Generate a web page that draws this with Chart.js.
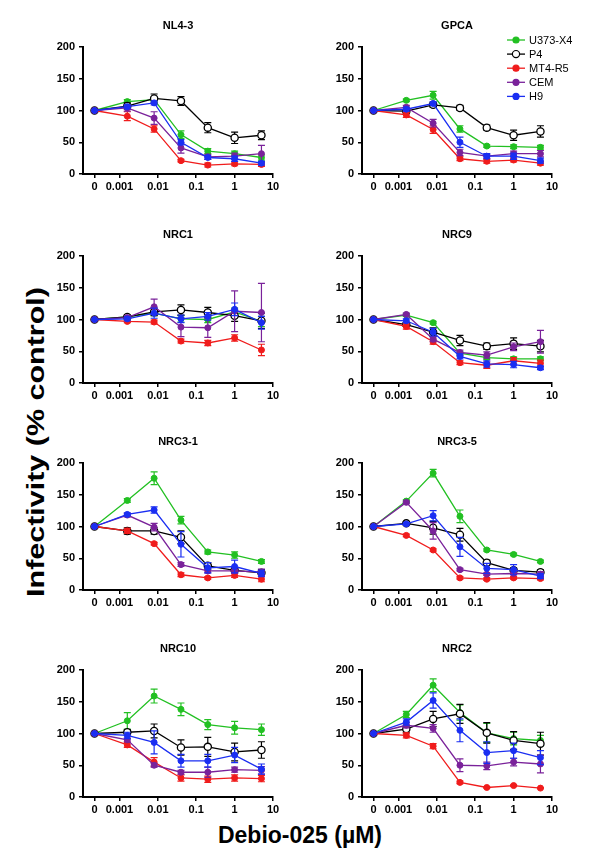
<!DOCTYPE html>
<html>
<head>
<meta charset="utf-8">
<script src="https://cdn.jsdelivr.net/npm/chart.js@4/dist/chart.umd.min.js"></script>
<style>
  html, body { margin: 0; padding: 0; background: #fff; }
  #page { position: relative; width: 600px; height: 862px; overflow: hidden; font-family: "Liberation Sans", Arial, sans-serif; }
  .panel { position: absolute; }
  #ytitle {
    position: absolute; left: 36px; top: 442px; white-space: nowrap;
    font-weight: bold; font-size: 24px; line-height: 1;
    transform: translate(-50%, -50%) rotate(-90deg) scaleX(1.27);
  }
  #xtitle {
    position: absolute; left: 0; width: 600px; top: 821px; text-align: center;
    font-weight: bold; font-size: 23px; line-height: 28px;
  }
</style>
</head>
<body>
<div id="page">
  <div id="ytitle">Infectivity (% control)</div>
  <div id="xtitle">Debio-025 (µM)</div>
</div>
<script>
// Debio-025 doses (µM); 0 is drawn at the axis break
const doses = [0, 0.0016, 0.008, 0.04, 0.2, 1, 5];
const xTickValues = [0, 0.001, 0.01, 0.1, 1, 10];
const xTickLabels = ['0', '0.001', '0.01', '0.1', '1', '10'];
const yTickValues = [0, 50, 100, 150, 200];

const cellLines = ['U373-X4', 'P4', 'MT4-R5', 'CEM', 'H9'];
const panelTitles = ['NL4-3', 'GPCA', 'NRC1', 'NRC9', 'NRC3-1', 'NRC3-5', 'NRC10', 'NRC2'];

// values per panel, rows in cellLines order
const NL4_3 = [
    [100, 114, 117, 62, 36, 32, 26],
    [100, 107, 119, 115, 73, 57, 61],
    [100, 91, 71, 21, 14, 16, 15],
    [100, 104, 88, 41, 27, 28, 32],
    [100, 106, 112, 50, 26, 24, 17]
];
const NL4_3_err = [
    [0, 3, 3, 6, 4, 4, 4],
    [0, 5, 7, 7, 8, 9, 7],
    [0, 7, 5, 2, 3, 3, 3],
    [0, 5, 10, 8, 4, 5, 13],
    [0, 3, 3, 4, 3, 4, 3]
];
const GPCA = [
    [100, 116, 124, 71, 44, 43, 42],
    [100, 99, 109, 104, 73, 61, 67],
    [100, 93, 70, 24, 20, 22, 17],
    [100, 105, 80, 34, 28, 32, 32],
    [100, 102, 111, 50, 28, 28, 21]
];
const GPCA_err = [
    [0, 2, 6, 5, 2, 3, 3],
    [0, 3, 4, 4, 4, 8, 9],
    [0, 4, 6, 3, 3, 3, 3],
    [0, 3, 6, 5, 3, 4, 5],
    [0, 3, 3, 8, 4, 5, 4]
];
const NRC1 = [
    [100, 104, 110, 101, 100, 112, 97],
    [100, 104, 112, 115, 111, 106, 98],
    [100, 97, 96, 66, 63, 71, 52],
    [100, 103, 120, 88, 87, 113, 111],
    [100, 101, 110, 101, 105, 116, 95]
];
const NRC1_err = [
    [0, 2, 4, 5, 5, 6, 8],
    [0, 3, 6, 8, 8, 9, 12],
    [0, 2, 3, 3, 4, 5, 9],
    [0, 3, 12, 15, 15, 32, 46],
    [0, 3, 8, 6, 6, 10, 10]
];
const NRC9 = [
    [100, 107, 95, 47, 40, 38, 38],
    [100, 92, 80, 67, 58, 62, 58],
    [100, 89, 65, 32, 28, 35, 31],
    [100, 108, 69, 48, 44, 57, 65],
    [100, 98, 80, 42, 30, 29, 24]
];
const NRC9_err = [
    [0, 2, 2, 3, 3, 3, 3],
    [0, 3, 7, 8, 5, 9, 9],
    [0, 4, 4, 3, 5, 5, 5],
    [0, 2, 4, 4, 5, 6, 18],
    [0, 3, 6, 4, 5, 5, 3]
];
const NRC3_1 = [
    [100, 141, 176, 110, 60, 55, 45],
    [100, 93, 93, 83, 38, 31, 27],
    [100, 93, 73, 24, 19, 23, 17],
    [100, 118, 99, 40, 30, 30, 28],
    [100, 119, 126, 72, 35, 37, 26]
];
const NRC3_1_err = [
    [0, 3, 10, 6, 3, 5, 3],
    [0, 5, 5, 10, 5, 4, 5],
    [0, 4, 2, 3, 2, 3, 4],
    [0, 3, 6, 3, 3, 3, 5],
    [0, 2, 5, 20, 8, 10, 5]
];
const NRC3_5 = [
    [100, 140, 184, 116, 63, 56, 45],
    [100, 105, 98, 87, 43, 31, 28],
    [100, 86, 63, 19, 17, 19, 18],
    [100, 138, 93, 32, 25, 26, 25],
    [100, 104, 117, 68, 34, 32, 22]
];
const NRC3_5_err = [
    [0, 2, 6, 10, 2, 2, 2],
    [0, 2, 10, 10, 4, 4, 4],
    [0, 2, 2, 2, 2, 2, 2],
    [0, 2, 13, 2, 2, 2, 4],
    [0, 2, 8, 15, 8, 8, 4]
];
const NRC10 = [
    [100, 120, 159, 138, 114, 109, 106],
    [100, 102, 104, 78, 79, 71, 74],
    [100, 82, 55, 30, 28, 30, 29],
    [100, 90, 50, 39, 39, 43, 42],
    [100, 97, 86, 57, 57, 66, 44]
];
const NRC10_err = [
    [0, 13, 11, 10, 8, 10, 9],
    [0, 4, 11, 12, 15, 14, 13],
    [0, 4, 7, 5, 5, 5, 5],
    [0, 3, 3, 3, 8, 4, 6],
    [0, 5, 18, 10, 10, 12, 8]
];
const NRC2 = [
    [100, 130, 176, 133, 101, 92, 89],
    [100, 107, 123, 131, 101, 89, 84],
    [100, 97, 80, 23, 15, 18, 14],
    [100, 113, 108, 50, 49, 55, 52],
    [100, 118, 152, 105, 70, 73, 62]
];
const NRC2_err = [
    [0, 5, 10, 12, 15, 10, 8],
    [0, 6, 12, 15, 16, 14, 18],
    [0, 4, 4, 2, 1, 1, 1],
    [0, 4, 6, 10, 6, 6, 14],
    [0, 5, 12, 18, 17, 12, 11]
];

const panelValues = [NL4_3, GPCA, NRC1, NRC9, NRC3_1, NRC3_5, NRC10, NRC2];
const panelErrors = [NL4_3_err, GPCA_err, NRC1_err, NRC9_err, NRC3_1_err, NRC3_5_err, NRC10_err, NRC2_err];

// look
const FONT = '"Liberation Sans", Arial, Helvetica, sans-serif';
const colors = ['#22c022', '#000000', '#f01c1c', '#7a229a', '#1a2ef2'];
const ZERO_POS = Math.pow(10, -3.65);   // where dose 0 sits on the log axis
const X_MIN = Math.pow(10, -3.95);
const colLeft = [83, 362];
const rowTop = [47, 256, 463, 670];
const PLOT_W = 190, PLOT_H = 127;
const PAD = { left: 5, top: 30, right: 25, bottom: 3 };
const Y_AXIS_W = 40, X_AXIS_H = 22;

/**
 * Barras de error dibujadas bajo cada serie
 */
const errorBars = {
    id: 'errorBars',
    beforeDatasetDraw(chart, args) {
        const ds = chart.data.datasets[args.index];
        if (!ds.errors) return;
        const yScale = chart.scales.y;
        const ctx = chart.ctx;
        ctx.save();
        ctx.strokeStyle = ds.borderColor;
        ctx.lineWidth = 1.2;
        args.meta.data.forEach((pt, i) => {
            const e = ds.errors[i];
            if (!e) return;
            const v = ds.data[i].y;
            const top = yScale.getPixelForValue(v + e);
            const bot = yScale.getPixelForValue(Math.max(v - e, 0));
            ctx.beginPath();
            ctx.moveTo(pt.x, top); ctx.lineTo(pt.x, bot);
            ctx.moveTo(pt.x - 3.5, top); ctx.lineTo(pt.x + 3.5, top);
            ctx.moveTo(pt.x - 3.5, bot); ctx.lineTo(pt.x + 3.5, bot);
            ctx.stroke();
        });
        ctx.restore();
    }
};

/**
 * Título del panel, centrado sobre el área del gráfico
 */
const panelTitle = {
    id: 'panelTitle',
    afterDraw(chart, args, opts) {
        const { ctx, chartArea } = chart;
        ctx.save();
        ctx.font = 'bold 11px ' + FONT;
        ctx.fillStyle = '#000';
        ctx.textAlign = 'center';
        ctx.textBaseline = 'middle';
        ctx.fillText(opts.text, (chartArea.left + chartArea.right) / 2, chartArea.top - 21);
        ctx.restore();
    }
};

/**
 * Leyenda con línea y marcador (solo en el panel GPCA)
 */
const lineLegend = {
    id: 'lineLegend',
    afterDraw(chart, args, opts) {
        if (!opts.show) return;
        const { ctx, chartArea } = chart;
        const x0 = chartArea.left + 145;
        ctx.save();
        ctx.font = '11px ' + FONT;
        ctx.textBaseline = 'middle';
        ctx.textAlign = 'left';
        chart.data.datasets.forEach((ds, i) => {
            const y = chartArea.top - 7 + i * 14.1;
            ctx.strokeStyle = ds.borderColor;
            ctx.lineWidth = 1.3;
            ctx.beginPath();
            ctx.moveTo(x0, y); ctx.lineTo(x0 + 18, y);
            ctx.stroke();
            ctx.beginPath();
            ctx.arc(x0 + 9, y, ds.pointRadius, 0, Math.PI * 2);
            ctx.fillStyle = ds.pointBackgroundColor;
            ctx.fill();
            ctx.lineWidth = 1.2;
            ctx.stroke();
            ctx.fillStyle = '#000';
            ctx.fillText(ds.label, x0 + 22, y + 0.5);
        });
        ctx.restore();
    }
};

function buildDatasets(values, errors) {
    return cellLines.map((name, s) => {
        const open = name === 'P4';
        return {
            label: name,
            data: doses.map((d, i) => ({ x: d === 0 ? ZERO_POS : d, y: values[s][i] })),
            errors: errors[s],
            borderColor: colors[s],
            backgroundColor: colors[s],
            pointBackgroundColor: open ? '#ffffff' : colors[s],
            pointBorderColor: colors[s],
            pointRadius: open ? 3.6 : 3,
            pointBorderWidth: open ? 1.3 : 1,
            borderWidth: 1.3,
            tension: 0,
            order: cellLines.length - s
        };
    });
}

function createPanel(p) {
    const col = p % 2, row = Math.floor(p / 2);
    const w = PAD.left + Y_AXIS_W + PLOT_W + PAD.right;
    const h = PAD.top + PLOT_H + X_AXIS_H + PAD.bottom;
    const div = document.createElement('div');
    div.className = 'panel';
    div.style.left = (colLeft[col] - PAD.left - Y_AXIS_W) + 'px';
    div.style.top = (rowTop[row] - PAD.top) + 'px';
    const canvas = document.createElement('canvas');
    canvas.width = w;
    canvas.height = h;
    canvas.style.width = w + 'px';
    canvas.style.height = h + 'px';
    div.appendChild(canvas);
    document.getElementById('page').appendChild(div);

    try {
        new Chart(canvas, {
            type: 'line',
            data: { datasets: buildDatasets(panelValues[p], panelErrors[p]) },
            options: {
                responsive: false,
                animation: false,
                devicePixelRatio: 1,
                layout: { padding: PAD },
                plugins: {
                    legend: { display: false },
                    tooltip: { enabled: false },
                    panelTitle: { text: panelTitles[p] },
                    lineLegend: { show: p === 1 }
                },
                scales: {
                    x: {
                        type: 'logarithmic',
                        min: X_MIN,
                        max: 10,
                        afterBuildTicks: axis => {
                            axis.ticks = xTickValues.map(v => ({ value: v === 0 ? ZERO_POS : v }));
                        },
                        afterFit: axis => { axis.height = X_AXIS_H; },
                        ticks: {
                            autoSkip: false,
                            maxRotation: 0,
                            padding: 2,
                            color: '#000',
                            font: { family: FONT, size: 11, weight: 'bold' },
                            callback: (val, idx) => xTickLabels[idx]
                        },
                        grid: { drawOnChartArea: false, drawTicks: true, tickLength: 4, color: '#000', lineWidth: 1.5 },
                        border: { display: true, color: '#000', width: 2 }
                    },
                    y: {
                        min: 0,
                        max: 200,
                        afterBuildTicks: axis => {
                            axis.ticks = yTickValues.map(v => ({ value: v }));
                        },
                        afterFit: axis => { axis.width = Y_AXIS_W; },
                        ticks: {
                            padding: 4,
                            color: '#000',
                            font: { family: FONT, size: 11, weight: 'bold' }
                        },
                        grid: { drawOnChartArea: false, drawTicks: true, tickLength: 4, color: '#000', lineWidth: 1.5 },
                        border: { display: true, color: '#000', width: 2 }
                    }
                }
            },
            plugins: [errorBars, panelTitle, lineLegend]
        });
    } catch (error) {
        console.error('Error creando panel ' + panelTitles[p] + ':', error);
    }
}

panelTitles.forEach((t, p) => createPanel(p));
</script>
</body>
</html>
